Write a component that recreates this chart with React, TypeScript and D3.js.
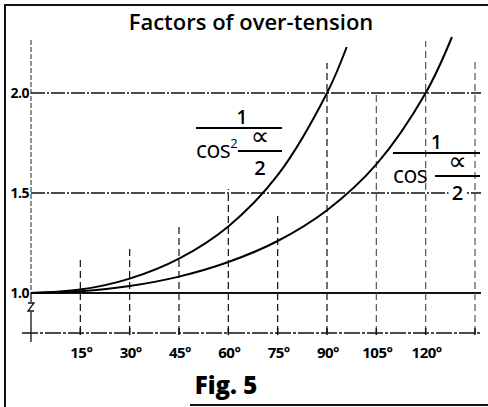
import React, { useEffect, useRef } from 'react';
import * as d3 from 'd3';

// values (angle in degrees -> factor)
const cos2Angles = [0, 15, 30, 45, 60, 75, 90, 96];
const cos2Values = [1.0, 1.017, 1.072, 1.172, 1.333, 1.589, 2.0, 2.23];
const cosAngles = [0, 15, 30, 45, 60, 75, 90, 105, 120, 128];
const cosValues = [1.0, 1.009, 1.035, 1.082, 1.155, 1.26, 1.414, 1.643, 2.0, 2.28];

const tickAngles = [15, 30, 45, 60, 75, 90, 105, 120, 135];
const tickLabels = ['15°', '30°', '45°', '60°', '75°', '90°', '105°', '120°', ''];
// how high each vertical dashed guide reaches (factor value)
const guideTops = [1.18, 1.22, 1.34, 1.52, 1.39, 2.15, 2.0, 2.26, 2.16];
const yTicks = [1.0, 1.5, 2.0];
const yLabels = ['1.0', '1.5', '2.0'];

const W = 488;
const H = 407;
const FONT = '"Open Sans", "DejaVu Sans", sans-serif';

const App: React.FC = () => {
  const ref = useRef<SVGSVGElement>(null);

  useEffect(() => {
    const svg = d3.select(ref.current);
    svg.html('');
    svg.attr('width', W).attr('height', H);

    const x = d3.scaleLinear().domain([0, 135]).range([31, 475]);
    const y = d3.scaleLinear().domain([1, 2]).range([293, 93]);
    const axisY = 333;

    svg.append('rect').attr('width', W).attr('height', H).attr('fill', '#fff');

    // frame (left, top, partial bottom)
    svg.append('path')
      .attr('d', `M5,407 L5,5 L488,5 M190,405 L488,405`)
      .attr('fill', 'none')
      .attr('stroke', '#111')
      .attr('stroke-width', 2);

    // title
    svg.append('text')
      .attr('x', 251).attr('y', 30)
      .attr('text-anchor', 'middle')
      .style('font-family', FONT)
      .style('font-size', '22px')
      .style('font-weight', 600)
      .text('Factors of over-tension');

    // horizontal grid
    yTicks.forEach((v, i) => {
      svg.append('line')
        .attr('x1', x(0)).attr('x2', 481)
        .attr('y1', y(v)).attr('y2', y(v))
        .attr('stroke', '#111')
        .attr('stroke-width', v === 1 ? 2 : 1.3)
        .attr('stroke-dasharray', v === 1 ? null : '14,2,2,2');
      svg.append('text')
        .attr('x', 29).attr('y', y(v) + 5)
        .attr('text-anchor', 'end')
        .style('font-family', FONT)
        .style('font-size', '14px')
        .style('font-weight', 700)
        .style('letter-spacing', '-0.5px')
        .text(yLabels[i]);
    });

    // x axis line
    svg.append('line')
      .attr('x1', 22).attr('x2', 481)
      .attr('y1', axisY).attr('y2', axisY)
      .attr('stroke', '#111').attr('stroke-width', 1.3)
      .attr('stroke-dasharray', '16,2,3,2');

    // y axis (dashed above 1.0, solid below with break mark)
    svg.append('line')
      .attr('x1', x(0)).attr('x2', x(0))
      .attr('y1', 40).attr('y2', y(1))
      .attr('stroke', '#222').attr('stroke-width', 1)
      .attr('stroke-dasharray', '5,2');
    svg.append('line')
      .attr('x1', x(0)).attr('x2', x(0))
      .attr('y1', y(1)).attr('y2', 302)
      .attr('stroke', '#111').attr('stroke-width', 1.3);
    svg.append('path')
      .attr('d', `M${x(0) - 3},303 L${x(0) + 3},303 L${x(0) - 3},311 L${x(0) + 3},311`)
      .attr('fill', 'none').attr('stroke', '#111').attr('stroke-width', 1.3);
    svg.append('line')
      .attr('x1', x(0)).attr('x2', x(0))
      .attr('y1', 312).attr('y2', 342)
      .attr('stroke', '#111').attr('stroke-width', 1.3);

    // vertical guides
    tickAngles.forEach((a, i) => {
      svg.append('line')
        .attr('x1', x(a)).attr('x2', x(a))
        .attr('y1', axisY).attr('y2', y(guideTops[i]))
        .attr('stroke', a >= 105 ? '#555' : '#111')
        .attr('stroke-width', 1.2)
        .attr('stroke-dasharray', '7,4');
      svg.append('line')
        .attr('x1', x(a)).attr('x2', x(a))
        .attr('y1', axisY - 5).attr('y2', axisY + 2)
        .attr('stroke', '#111').attr('stroke-width', 1.5);
      svg.append('text')
        .attr('x', x(a) + 1).attr('y', 358)
        .attr('text-anchor', 'middle')
        .style('font-family', FONT)
        .style('font-size', '15px')
        .style('font-weight', 700)
        .style('letter-spacing', '-0.5px')
        .text(tickLabels[i]);
    });

    // curves
    const line = d3.line<[number, number]>()
      .x(d => x(d[0]))
      .y(d => y(d[1]))
      .curve(d3.curveCatmullRom.alpha(0.5));

    const series = [
      cos2Angles.map((a, i) => [a, cos2Values[i]] as [number, number]),
      cosAngles.map((a, i) => [a, cosValues[i]] as [number, number]),
    ];
    series.forEach(s => {
      svg.append('path')
        .attr('d', line(s))
        .attr('fill', 'none')
        .attr('stroke', '#000')
        .attr('stroke-width', 2);
    });

    // formula labels
    const formula = (gx: number, gy: number, sq: boolean, barW: number, smallX: number, mask: boolean) => {
      const g = svg.append('g').attr('transform', `translate(${gx},${gy})`);
      const cx = (smallX + barW) / 2;
      if (mask) {
        g.append('rect').attr('x', cx - 9).attr('y', 32).attr('width', 18).attr('height', 16).attr('fill', '#fff');
      }
      g.append('text')
        .attr('x', barW / 2 + (sq ? 3 : 0)).attr('y', -4)
        .attr('text-anchor', 'middle')
        .style('font-family', FONT).style('font-size', '19px').style('font-weight', 600)
        .text('1');
      g.append('line').attr('x1', 0).attr('x2', barW).attr('y1', 0).attr('y2', 0)
        .attr('stroke', '#000').attr('stroke-width', 2);
      const t = g.append('text')
        .attr('x', 0).attr('y', 30)
        .style('font-family', FONT).style('font-size', '23px')
        .style('letter-spacing', '-0.5px')
        .text('cos');
      if (sq) {
        t.append('tspan').attr('dy', -10).style('font-size', '13px').text('2');
      }
      g.append('line').attr('x1', smallX).attr('x2', barW).attr('y1', 23).attr('y2', 23)
        .attr('stroke', '#000').attr('stroke-width', 2);
      g.append('text')
        .attr('x', cx).attr('y', 17)
        .attr('text-anchor', 'middle')
        .style('font-family', FONT).style('font-size', '26px')
        .text('∝');
      g.append('text')
        .attr('x', cx).attr('y', 47)
        .attr('text-anchor', 'middle')
        .style('font-family', FONT).style('font-size', '20px').style('font-weight', 600)
        .text('2');
    };
    formula(196, 128, true, 86, 42, false);
    formula(393, 153, false, 87, 42, true);

    // figure caption
    svg.append('text')
      .attr('x', 226).attr('y', 394)
      .attr('text-anchor', 'middle')
      .style('font-family', FONT)
      .style('font-size', '24px')
      .style('font-weight', 800)
      .text('Fig. 5');
  }, []);

  return (
    <svg ref={ref} style={{ position: 'absolute', left: 0, top: 0, display: 'block' }} />
  );
};

export default App;
